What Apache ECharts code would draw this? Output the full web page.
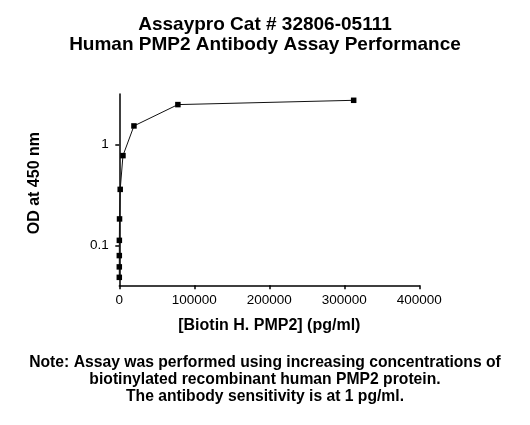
<!DOCTYPE html>
<html>
<head>
<meta charset="utf-8">
<script src="https://cdn.jsdelivr.net/npm/echarts@6/dist/echarts.min.js"></script>
<style>html,body{margin:0;padding:0;background:#fff;}#c{width:530px;height:425px;}</style>
</head>
<body>
<div id="c"></div>
<script>
const titleLines = ['Assaypro Cat # 32806-05111', 'Human PMP2 Antibody Assay Performance'];
const noteLines = ['Note: Assay was performed using increasing concentrations of', 'biotinylated recombinant human PMP2 protein.', 'The antibody sensitivity is at 1 pg/ml.'];
const xName = '[Biotin H. PMP2] (pg/ml)';
const yName = 'OD at 450 nm';
const concentrations = [1.2, 4.8, 19, 76, 305, 1221, 4883, 19531, 78125, 312500];
const odValues = [0.048, 0.061, 0.079, 0.112, 0.183, 0.36, 0.78, 1.54, 2.51, 2.77];
const yTickValues = [0.1, 1];

const FONT = '"Liberation Sans", Arial, sans-serif';
const noteStyle = {fontFamily: FONT, fontWeight: 'bold', fontSize: 15.7, lineHeight: 17.3, color: '#000'};
const chart = echarts.init(document.getElementById('c'), null, {renderer: 'canvas'});
chart.setOption({
  animation: false,
  backgroundColor: '#fff',
  title: [
    {text: titleLines.join('\n'), left: 'center', top: 15, padding: 0,
     textStyle: {fontFamily: FONT, fontWeight: 'bold', fontSize: 19, lineHeight: 20, color: '#000'}}
  ].concat(noteLines.map((t, i) => ({
    text: t, left: 'center', top: 353.6 + i * 17.3, padding: 0, textStyle: noteStyle
  }))),
  grid: {left: 119.3, right: 110.7, top: 94, bottom: 139.7},
  xAxis: {
    type: 'value', min: 0, max: 400000, interval: 100000,
    name: xName, nameLocation: 'middle', nameGap: 32,
    nameTextStyle: {fontFamily: FONT, fontWeight: 'bold', fontSize: 16, color: '#000'},
    axisLine: {onZero: false, lineStyle: {color: '#000', width: 1.5}},
    axisTick: {show: true, inside: false, length: 4, lineStyle: {color: '#000', width: 1.5}},
    axisLabel: {margin: 8, fontFamily: FONT, fontSize: 13.5, color: '#000', formatter: v => String(v)},
    splitLine: {show: false}
  },
  yAxis: {
    type: 'log', logBase: 10, min: 0.04, max: 3.2,
    name: yName, nameLocation: 'middle', nameGap: 77,
    nameTextStyle: {fontFamily: FONT, fontWeight: 'bold', fontSize: 16, color: '#000', padding: [0, 0, 0, 13]},
    axisLine: {show: true, lineStyle: {color: '#000', width: 1.5}},
    axisTick: {show: true, inside: false, length: 4, lineStyle: {color: '#000', width: 1.5}, customValues: yTickValues},
    axisLabel: {margin: 10.5, fontFamily: FONT, fontSize: 13.5, color: '#000', customValues: yTickValues,
      formatter: v => String(v)},
    splitLine: {show: false},
    minorTick: {show: false}
  },
  series: [{
    type: 'line',
    data: concentrations.map((c, i) => [c, odValues[i]]),
    symbol: 'rect', symbolSize: 5.5,
    itemStyle: {color: '#000'},
    lineStyle: {color: '#111', width: 1},
    clip: false
  }]
});
</script>
</body>
</html>
